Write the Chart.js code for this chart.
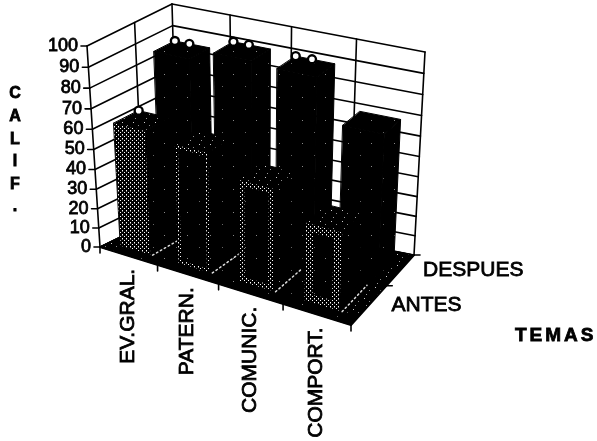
<!DOCTYPE html>
<html>
<head>
<meta charset="utf-8">
<script src="https://cdn.jsdelivr.net/npm/chart.js@4"></script>
<style>
html, body { margin: 0; padding: 0; background: #fff; }
canvas { display: block; }
</style>
</head>
<body>
<canvas id="chart" width="597" height="441"></canvas>
<script>
const categories = ['EV.GRAL.', 'PATERN.', 'COMUNIC.', 'COMPORT.'];
const antes = [62, 59, 50, 38];
const despues = [86, 91, 90, 70];
const seriesNames = ['ANTES', 'DESPUES'];
const yLetters = ['C', 'A', 'L', 'I', 'F', '.'];
const xTitle = 'TEMAS';
const ringCounts = [[1, 0, 0, 0], [2, 2, 2, 0]];
const rimWidths = [18, 3, 5, 8];

// wall corners in canvas px: [front/back][left/right][floor/top]
const box = {
    fl0: [100, 247], fl1: [87, 46],
    fr0: [351, 325], fr1: [360, 108],
    bl0: [178, 209], bl1: [172, 4],
    br0: [414, 255], br1: [425, 52]
};

function mix(a, b, t) { return [a[0] + (b[0] - a[0]) * t, a[1] + (b[1] - a[1]) * t]; }

// u along categories, v into the depth, w up the value axis (all 0..1)
function project(u, v, w) {
    const uu = u - 0.11 * u * (1 - u);
    const vv = v + 0.24 * v * (1 - v);
    const ww = w - 0.06 * w * (1 - w);
    const floor = mix(mix(box.fl0, box.fr0, uu), mix(box.bl0, box.br0, uu), vv);
    const top = mix(mix(box.fl1, box.fr1, uu), mix(box.bl1, box.br1, uu), vv);
    return mix(floor, top, ww);
}

function makeTile(size, dots, base) {
    const c = document.createElement('canvas');
    c.width = c.height = size;
    const g = c.getContext('2d');
    g.fillStyle = base;
    g.fillRect(0, 0, size, size);
    dots.forEach(d => {
        g.fillStyle = d[2] || '#fff';
        g.fillRect(d[0], d[1], 1, 1);
    });
    return g.createPattern(c, 'repeat');
}

function trace(ctx, pts) {
    ctx.beginPath();
    pts.forEach((p, i) => i ? ctx.lineTo(p[0], p[1]) : ctx.moveTo(p[0], p[1]));
    ctx.closePath();
}

function poly(ctx, pts, fill) {
    trace(ctx, pts);
    ctx.fillStyle = fill;
    ctx.fill();
    ctx.strokeStyle = '#000';
    ctx.lineWidth = 1;
    ctx.stroke();
}

function line(ctx, a, b, width) {
    ctx.beginPath();
    ctx.moveTo(a[0], a[1]);
    ctx.lineTo(b[0], b[1]);
    ctx.lineWidth = width || 1.6;
    ctx.strokeStyle = '#000';
    ctx.stroke();
}

function dotted(ctx, a, b) {
    ctx.save();
    ctx.setLineDash([1.5, 3]);
    ctx.lineWidth = 1.5;
    ctx.strokeStyle = '#ddd';
    ctx.beginPath();
    ctx.moveTo(a[0], a[1]);
    ctx.lineTo(b[0], b[1]);
    ctx.stroke();
    ctx.restore();
}

// front face of a front bar: dark middle, stippled rim
function stippledFace(ctx, pts, middle, rim, rimWidth) {
    poly(ctx, pts, middle);
    ctx.save();
    trace(ctx, pts);
    ctx.clip();
    trace(ctx, pts);
    ctx.lineWidth = rimWidth * 2;
    ctx.strokeStyle = rim;
    ctx.stroke();
    ctx.restore();
}

const box3d = {
    id: 'box3d',
    beforeDatasetsDraw(chart) {
        const ctx = chart.ctx;
        const area = chart.chartArea;
        const yScale = chart.scales.y;
        const xScale = chart.scales.x;
        const toU = px => (px - area.left) / area.width;
        const toW = px => (area.bottom - px) / area.height;

        const stipple = makeTile(4, [[0, 0], [2, 2], [2, 3, '#777']], '#000');
        const sparse = makeTile(11, [[1, 1, '#ccc'], [6, 4, '#888'], [3, 8, '#999']], '#000');
        const speck = makeTile(23, [[3, 5, '#888'], [15, 17, '#666']], '#000');

        ctx.save();
        ctx.lineCap = 'round';
        // floor
        poly(ctx, [project(0, 0, 0), project(1, 0, 0), project(1, 1, 0), project(0, 1, 0)], speck);
        poly(ctx, [project(0, 0, 0), project(0.06, 0, 0), project(0.06, 1, 0), project(0, 1, 0)], sparse);
        poly(ctx, [project(0.94, 0.1, 0), project(1, 0.1, 0), project(1, 1, 0), project(0.94, 1, 0)], sparse);
        // walls
        yScale.ticks.forEach(t => {
            const w = toW(yScale.getPixelForValue(t.value));
            const p = project(0, 0, w);
            line(ctx, p, project(0, 1, w));
            line(ctx, project(0, 1, w), project(1, 1, w));
            line(ctx, p, [p[0] - 6, p[1]]);
        });
        line(ctx, project(0, 0, 0), project(0, 0, 1));
        line(ctx, project(0, 1, 0), project(0, 1, 1));
        line(ctx, project(1, 1, 0), project(1, 1, 1));
        line(ctx, project(0, 0.5, 0), project(0, 0.5, 1));
        categories.forEach((c, i) => {
            const edge = toU(xScale.getPixelForValue(i) + area.width / categories.length / 2);
            if (i < categories.length - 1) line(ctx, project(edge, 1, 0), project(edge, 1, 1));
        });
        // front and side edges of the floor, with their ticks
        line(ctx, project(0, 0, 0), project(1, 0, 0), 2);
        line(ctx, project(1, 0, 0), project(1, 1, 0), 2);
        [0, 1, 2, 3, 4].forEach(i => {
            const p = project(i / 4, 0, 0);
            line(ctx, p, [p[0], p[1] + 6]);
        });
        [0.5, 1].forEach(v => {
            const p = project(1, v, 0);
            line(ctx, p, [p[0] + 6, p[1]]);
        });

        // bars: back row first, left to right
        [1, 0].forEach(row => {
            const meta = chart.getDatasetMeta(row);
            const v0 = row ? 0.58 : 0.1;
            const v1 = row ? 0.86 : 0.37;
            const shift = row ? 0 : -0.01;
            meta.data.forEach((bar, i) => {
                const u0 = toU(bar.x - bar.width / 2) + shift;
                const u1 = toU(bar.x + bar.width / 2) + shift;
                const w = toW(bar.y);
                poly(ctx, [project(u1, v0, 0), project(u1, v1, 0), project(u1, v1, w), project(u1, v0, w)], speck);
                poly(ctx, [project(u0, v0, w), project(u1, v0, w), project(u1, v1, w), project(u0, v1, w)], row ? speck : sparse);
                const face = [project(u0, v0, 0), project(u1, v0, 0), project(u1, v0, w), project(u0, v0, w)];
                if (row) poly(ctx, face, speck);
                else {
                    stippledFace(ctx, face, speck, stipple, rimWidths[i]);
                    // base of the side face shows as a pale dotted line on the floor
                    dotted(ctx, project(u1 + 0.01, v0, 0), project(u1 + 0.01, v1 + 0.08, 0));
                }
                const rings = ringCounts[row][i];
                for (let r = 0; r < rings; r++) {
                    const p = project(u0 + (u1 - u0) * r * 0.42, v1, w);
                    ctx.beginPath();
                    ctx.arc(p[0], p[1], 4, 0, Math.PI * 2);
                    ctx.fillStyle = '#fff';
                    ctx.fill();
                    ctx.lineWidth = 2.4;
                    ctx.strokeStyle = '#000';
                    ctx.stroke();
                }
            });
        });
        ctx.restore();
    },
    afterDraw(chart) {
        const ctx = chart.ctx;
        const area = chart.chartArea;
        const yScale = chart.scales.y;
        const toW = px => (area.bottom - px) / area.height;
        const heavy = (text, x, y) => {
            ctx.fillText(text, x, y);
            ctx.strokeText(text, x, y);
        };
        ctx.save();
        ctx.fillStyle = '#000';
        ctx.strokeStyle = '#000';
        ctx.lineWidth = 0.8;
        ctx.font = '18px "Liberation Sans"';
        ctx.textAlign = 'right';
        ctx.textBaseline = 'middle';
        yScale.ticks.forEach(t => {
            const p = project(0, 0, toW(yScale.getPixelForValue(t.value)));
            heavy(t.label, p[0] - 9, p[1]);
        });
        // category labels, read bottom to top
        ctx.font = '21px "Liberation Sans"';
        chart.scales.x.ticks.forEach((t, i) => {
            const p = project((i + 0.5) / categories.length, 0, 0);
            ctx.save();
            ctx.translate(p[0], p[1] + 13);
            ctx.rotate(-Math.PI / 2);
            heavy(t.label, 0, 0);
            ctx.restore();
        });
        // series labels along the depth edge
        ctx.textAlign = 'left';
        ctx.font = '21px "Liberation Sans"';
        seriesNames.forEach((name, i) => {
            const p = project(1, 0.25 + i * 0.5, 0);
            heavy(name, p[0] + 22, p[1] + 1);
        });
        ctx.font = 'bold 16px "Liberation Sans"';
        ctx.textAlign = 'center';
        yLetters.forEach((ch, i) => heavy(ch, 15, 94 + i * 22.6));
        ctx.font = 'bold 19px "Liberation Sans"';
        ctx.textAlign = 'left';
        ctx.letterSpacing = '3px';
        heavy(xTitle, 515, 336);
        ctx.restore();
    }
};

new Chart(document.getElementById('chart'), {
    type: 'bar',
    data: {
        labels: categories,
        datasets: [
            { label: seriesNames[0], data: antes, backgroundColor: 'transparent', borderWidth: 0, barPercentage: 0.52 },
            { label: seriesNames[1], data: despues, backgroundColor: 'transparent', borderWidth: 0, barPercentage: 0.6 }
        ]
    },
    options: {
        responsive: false,
        animation: false,
        grouped: false,
        categoryPercentage: 1,
        layout: { padding: 0 },
        plugins: { legend: { display: false }, tooltip: { enabled: false } },
        scales: {
            x: { display: false },
            y: { display: false, min: 0, max: 100, ticks: { stepSize: 10 } }
        }
    },
    plugins: [box3d]
});
</script>
</body>
</html>
